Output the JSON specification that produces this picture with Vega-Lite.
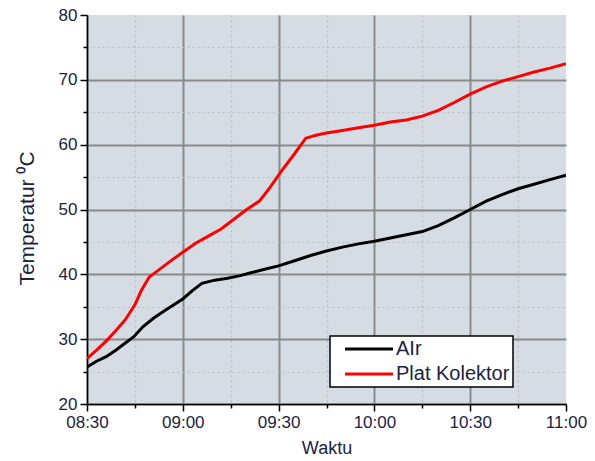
{
  "$schema": "https://vega.github.io/schema/vega-lite/v6.json",
  "width": 479,
  "height": 389,
  "autosize": {"type": "none"},
  "padding": {"left": 87, "top": 15, "right": 29, "bottom": 57},
  "background": "white",
  "config": {
    "font": "Liberation Sans",
    "view": {"fill": "#d5dce4", "stroke": null},
    "legend": {"strokeWidth": 1.5}
  },
  "data": {
    "values": [
      {"t": "2024-01-01T08:30:00", "s": "AIr", "v": 25.7},
      {"t": "2024-01-01T08:33:00", "s": "AIr", "v": 26.6},
      {"t": "2024-01-01T08:36:00", "s": "AIr", "v": 27.3},
      {"t": "2024-01-01T08:39:00", "s": "AIr", "v": 28.3},
      {"t": "2024-01-01T08:42:00", "s": "AIr", "v": 29.4},
      {"t": "2024-01-01T08:44:30", "s": "AIr", "v": 30.3},
      {"t": "2024-01-01T08:47:30", "s": "AIr", "v": 31.9},
      {"t": "2024-01-01T08:51:00", "s": "AIr", "v": 33.3},
      {"t": "2024-01-01T08:55:00", "s": "AIr", "v": 34.6},
      {"t": "2024-01-01T09:00:00", "s": "AIr", "v": 36.2},
      {"t": "2024-01-01T09:03:00", "s": "AIr", "v": 37.5},
      {"t": "2024-01-01T09:06:00", "s": "AIr", "v": 38.6},
      {"t": "2024-01-01T09:10:00", "s": "AIr", "v": 39.1},
      {"t": "2024-01-01T09:14:00", "s": "AIr", "v": 39.4},
      {"t": "2024-01-01T09:18:00", "s": "AIr", "v": 39.8},
      {"t": "2024-01-01T09:21:00", "s": "AIr", "v": 40.2},
      {"t": "2024-01-01T09:25:00", "s": "AIr", "v": 40.7},
      {"t": "2024-01-01T09:30:00", "s": "AIr", "v": 41.3},
      {"t": "2024-01-01T09:35:00", "s": "AIr", "v": 42.1},
      {"t": "2024-01-01T09:40:00", "s": "AIr", "v": 42.9},
      {"t": "2024-01-01T09:45:00", "s": "AIr", "v": 43.6},
      {"t": "2024-01-01T09:50:00", "s": "AIr", "v": 44.2},
      {"t": "2024-01-01T09:55:00", "s": "AIr", "v": 44.7},
      {"t": "2024-01-01T10:00:00", "s": "AIr", "v": 45.1},
      {"t": "2024-01-01T10:05:00", "s": "AIr", "v": 45.6},
      {"t": "2024-01-01T10:10:00", "s": "AIr", "v": 46.1},
      {"t": "2024-01-01T10:15:00", "s": "AIr", "v": 46.6},
      {"t": "2024-01-01T10:20:00", "s": "AIr", "v": 47.5},
      {"t": "2024-01-01T10:25:00", "s": "AIr", "v": 48.7},
      {"t": "2024-01-01T10:30:00", "s": "AIr", "v": 50.0},
      {"t": "2024-01-01T10:35:00", "s": "AIr", "v": 51.3},
      {"t": "2024-01-01T10:40:00", "s": "AIr", "v": 52.3},
      {"t": "2024-01-01T10:45:00", "s": "AIr", "v": 53.2},
      {"t": "2024-01-01T10:50:00", "s": "AIr", "v": 53.9},
      {"t": "2024-01-01T10:55:00", "s": "AIr", "v": 54.6},
      {"t": "2024-01-01T11:00:00", "s": "AIr", "v": 55.3},
      {"t": "2024-01-01T08:30:00", "s": "Plat Kolektor", "v": 27.0},
      {"t": "2024-01-01T08:33:00", "s": "Plat Kolektor", "v": 28.3},
      {"t": "2024-01-01T08:36:00", "s": "Plat Kolektor", "v": 29.7},
      {"t": "2024-01-01T08:39:00", "s": "Plat Kolektor", "v": 31.3},
      {"t": "2024-01-01T08:42:00", "s": "Plat Kolektor", "v": 33.0},
      {"t": "2024-01-01T08:45:00", "s": "Plat Kolektor", "v": 35.3},
      {"t": "2024-01-01T08:47:00", "s": "Plat Kolektor", "v": 37.5},
      {"t": "2024-01-01T08:49:30", "s": "Plat Kolektor", "v": 39.6},
      {"t": "2024-01-01T08:52:00", "s": "Plat Kolektor", "v": 40.5},
      {"t": "2024-01-01T08:56:00", "s": "Plat Kolektor", "v": 42.0},
      {"t": "2024-01-01T09:00:00", "s": "Plat Kolektor", "v": 43.4},
      {"t": "2024-01-01T09:04:00", "s": "Plat Kolektor", "v": 44.8},
      {"t": "2024-01-01T09:08:00", "s": "Plat Kolektor", "v": 45.9},
      {"t": "2024-01-01T09:12:00", "s": "Plat Kolektor", "v": 47.0},
      {"t": "2024-01-01T09:16:00", "s": "Plat Kolektor", "v": 48.5},
      {"t": "2024-01-01T09:20:00", "s": "Plat Kolektor", "v": 50.0},
      {"t": "2024-01-01T09:24:00", "s": "Plat Kolektor", "v": 51.3},
      {"t": "2024-01-01T09:27:00", "s": "Plat Kolektor", "v": 53.2},
      {"t": "2024-01-01T09:31:00", "s": "Plat Kolektor", "v": 56.0},
      {"t": "2024-01-01T09:35:00", "s": "Plat Kolektor", "v": 58.6},
      {"t": "2024-01-01T09:38:30", "s": "Plat Kolektor", "v": 61.0},
      {"t": "2024-01-01T09:42:00", "s": "Plat Kolektor", "v": 61.5},
      {"t": "2024-01-01T09:45:00", "s": "Plat Kolektor", "v": 61.8},
      {"t": "2024-01-01T09:50:00", "s": "Plat Kolektor", "v": 62.2},
      {"t": "2024-01-01T09:55:00", "s": "Plat Kolektor", "v": 62.6},
      {"t": "2024-01-01T10:00:00", "s": "Plat Kolektor", "v": 63.0},
      {"t": "2024-01-01T10:05:00", "s": "Plat Kolektor", "v": 63.5},
      {"t": "2024-01-01T10:10:00", "s": "Plat Kolektor", "v": 63.8},
      {"t": "2024-01-01T10:15:00", "s": "Plat Kolektor", "v": 64.4},
      {"t": "2024-01-01T10:20:00", "s": "Plat Kolektor", "v": 65.3},
      {"t": "2024-01-01T10:25:00", "s": "Plat Kolektor", "v": 66.5},
      {"t": "2024-01-01T10:30:00", "s": "Plat Kolektor", "v": 67.8},
      {"t": "2024-01-01T10:35:00", "s": "Plat Kolektor", "v": 68.9},
      {"t": "2024-01-01T10:40:00", "s": "Plat Kolektor", "v": 69.8},
      {"t": "2024-01-01T10:45:00", "s": "Plat Kolektor", "v": 70.5},
      {"t": "2024-01-01T10:50:00", "s": "Plat Kolektor", "v": 71.2},
      {"t": "2024-01-01T10:55:00", "s": "Plat Kolektor", "v": 71.8},
      {"t": "2024-01-01T11:00:00", "s": "Plat Kolektor", "v": 72.5}
    ]
  },
  "mark": {"type": "line", "strokeWidth": 3, "clip": true},
  "encoding": {
    "x": {
      "field": "t",
      "type": "temporal",
      "title": "Waktu",
      "scale": {
        "domain": [
          {"year": 2024, "month": 1, "date": 1, "hours": 8, "minutes": 30},
          {"year": 2024, "month": 1, "date": 1, "hours": 11, "minutes": 0}
        ]
      },
      "axis": {
        "values": [
          {"year": 2024, "month": 1, "date": 1, "hours": 8, "minutes": 30},
          {"year": 2024, "month": 1, "date": 1, "hours": 8, "minutes": 45},
          {"year": 2024, "month": 1, "date": 1, "hours": 9, "minutes": 0},
          {"year": 2024, "month": 1, "date": 1, "hours": 9, "minutes": 15},
          {"year": 2024, "month": 1, "date": 1, "hours": 9, "minutes": 30},
          {"year": 2024, "month": 1, "date": 1, "hours": 9, "minutes": 45},
          {"year": 2024, "month": 1, "date": 1, "hours": 10, "minutes": 0},
          {"year": 2024, "month": 1, "date": 1, "hours": 10, "minutes": 15},
          {"year": 2024, "month": 1, "date": 1, "hours": 10, "minutes": 30},
          {"year": 2024, "month": 1, "date": 1, "hours": 10, "minutes": 45},
          {"year": 2024, "month": 1, "date": 1, "hours": 11, "minutes": 0}
        ],
        "labelExpr": "minutes(datum.value) % 30 == 0 ? timeFormat(datum.value, '%H:%M') : ''",
        "labelFontSize": 17,
        "labelColor": "#1c2240",
        "labelPadding": 3,
        "labelFlush": false,
        "labelOverlap": false,
        "domainColor": "#000000",
        "domainWidth": 1.5,
        "tickColor": "#000000",
        "tickWidth": 1.5,
        "tickSize": {"condition": {"test": "minutes(datum.value) % 30 == 0", "value": 7}, "value": 4},
        "grid": true,
        "gridColor": {"condition": {"test": "minutes(datum.value) % 30 == 0", "value": "#8a8a8a"}, "value": "#bcbcbc"},
        "gridWidth": {"condition": {"test": "minutes(datum.value) % 30 == 0", "value": 2}, "value": 1.2},
        "gridDash": {"condition": {"test": "minutes(datum.value) % 30 == 0", "value": []}, "value": [2, 3]},
        "gridOpacity": {"condition": {"test": "hours(datum.value) == 11", "value": 0}, "value": 1},
        "titleFontSize": 18,
        "titleFontWeight": "normal",
        "titleColor": "#1c2240",
        "titlePadding": 9
      }
    },
    "y": {
      "field": "v",
      "type": "quantitative",
      "title": "Temperatur ⁰C",
      "scale": {"domain": [20, 80], "nice": false, "zero": false},
      "axis": {
        "values": [20, 25, 30, 35, 40, 45, 50, 55, 60, 65, 70, 75, 80],
        "labelExpr": "datum.value % 10 == 0 ? datum.label : ''",
        "labelFontSize": 17,
        "labelColor": "#1c2240",
        "labelPadding": 3,
        "labelFlush": false,
        "labelOverlap": false,
        "domainColor": "#000000",
        "domainWidth": 1.5,
        "tickColor": "#000000",
        "tickWidth": 1.5,
        "tickSize": {"condition": {"test": "datum.value % 10 == 0", "value": 7}, "value": 4},
        "grid": true,
        "gridColor": {"condition": {"test": "datum.value % 10 == 0", "value": "#8a8a8a"}, "value": "#bcbcbc"},
        "gridWidth": {"condition": {"test": "datum.value % 10 == 0", "value": 2}, "value": 1.2},
        "gridDash": {"condition": {"test": "datum.value % 10 == 0", "value": []}, "value": [2, 3]},
        "gridOpacity": {"condition": {"test": "datum.value == 80", "value": 0}, "value": 1},
        "titleFontSize": 21,
        "titleFontWeight": "normal",
        "titleColor": "#1c2240",
        "titlePadding": 21,
        "titleY": 203
      }
    },
    "color": {
      "field": "s",
      "type": "nominal",
      "scale": {"domain": ["AIr", "Plat Kolektor"], "range": ["#000000", "#ff0000"]},
      "legend": {
        "title": null,
        "orient": "none",
        "legendX": 243,
        "legendY": 321,
        "fillColor": "#ffffff",
        "strokeColor": "#000000",
        "padding": 3,
        "symbolType": "M-4,0H4",
        "symbolSize": 144,
        "symbolStrokeWidth": 3,
        "symbolOffset": 26,
        "labelFontSize": 20,
        "labelColor": "#1c2240",
        "labelOffset": 17,
        "rowPadding": 5
      }
    }
  }
}
